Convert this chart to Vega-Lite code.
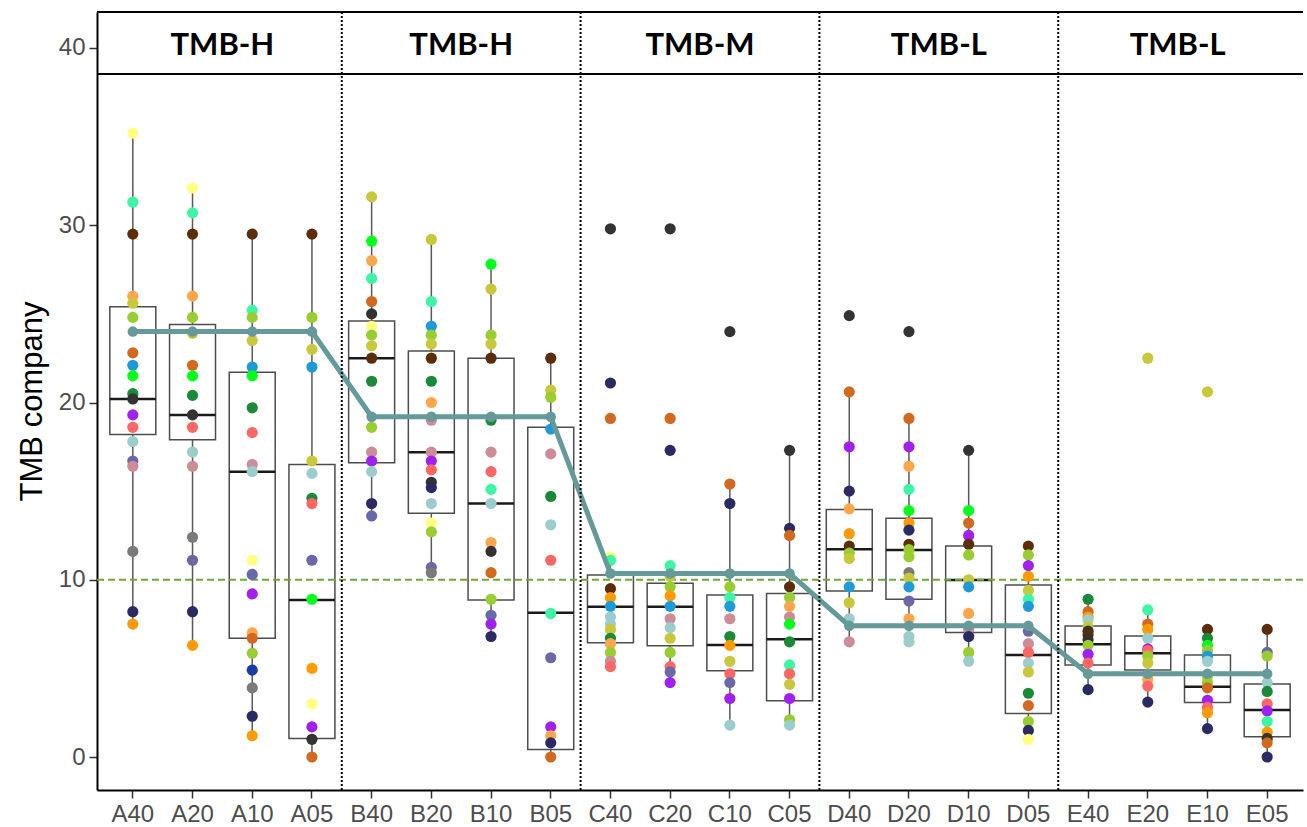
{
  "$schema": "https://vega.github.io/schema/vega-lite/v6.json",
  "autosize": "none",
  "padding": {"left": 97, "top": 12, "right": 4, "bottom": 37},
  "width": 1206,
  "height": 778,
  "background": "white",
  "config": {"view": {"stroke": null}},
  "datasets": {
    "pts": [
      {"c":"A40","s":"ly","v":35.2},{"c":"A40","s":"aq","v":31.3},{"c":"A40","s":"br","v":29.5},{"c":"A40","s":"lo","v":26.0},{"c":"A40","s":"ol","v":25.6},{"c":"A40","s":"yg","v":24.8},{"c":"A40","s":"do","v":22.8},{"c":"A40","s":"bl","v":22.1},{"c":"A40","s":"li","v":21.5},{"c":"A40","s":"dg","v":20.5},{"c":"A40","s":"bk","v":20.2},{"c":"A40","s":"pu","v":19.3},{"c":"A40","s":"sa","v":18.6},{"c":"A40","s":"lb","v":17.8},{"c":"A40","s":"sl","v":16.7},{"c":"A40","s":"ma","v":16.4},{"c":"A40","s":"gr","v":11.6},{"c":"A40","s":"nv","v":8.2},{"c":"A40","s":"or","v":7.5},
      {"c":"A20","s":"ly","v":32.1},{"c":"A20","s":"aq","v":30.7},{"c":"A20","s":"br","v":29.5},{"c":"A20","s":"lo","v":26.0},{"c":"A20","s":"yg","v":24.8},{"c":"A20","s":"ol","v":23.9},{"c":"A20","s":"do","v":22.1},{"c":"A20","s":"li","v":21.5},{"c":"A20","s":"dg","v":20.4},{"c":"A20","s":"bk","v":19.3},{"c":"A20","s":"sa","v":18.6},{"c":"A20","s":"lb","v":17.2},{"c":"A20","s":"ma","v":16.4},{"c":"A20","s":"gr","v":12.4},{"c":"A20","s":"sl","v":11.1},{"c":"A20","s":"nv","v":8.2},{"c":"A20","s":"or","v":6.3},
      {"c":"A10","s":"br","v":29.5},{"c":"A10","s":"aq","v":25.2},{"c":"A10","s":"yg","v":24.8},{"c":"A10","s":"ol","v":23.5},{"c":"A10","s":"bl","v":22.0},{"c":"A10","s":"li","v":21.5},{"c":"A10","s":"dg","v":19.7},{"c":"A10","s":"sa","v":18.3},{"c":"A10","s":"ma","v":16.5},{"c":"A10","s":"lb","v":16.1},{"c":"A10","s":"ly","v":11.1},{"c":"A10","s":"sl","v":10.3},{"c":"A10","s":"pu","v":9.2},{"c":"A10","s":"lo","v":7.0},{"c":"A10","s":"do","v":6.7},{"c":"A10","s":"yg","v":5.85},{"c":"A10","s":"rb","v":4.9},{"c":"A10","s":"gr","v":3.9},{"c":"A10","s":"nv","v":2.3},{"c":"A10","s":"or","v":1.2},
      {"c":"A05","s":"br","v":29.5},{"c":"A05","s":"yg","v":24.8},{"c":"A05","s":"ol","v":23.0},{"c":"A05","s":"bl","v":22.0},{"c":"A05","s":"ol","v":16.7},{"c":"A05","s":"lb","v":16.0},{"c":"A05","s":"dg","v":14.6},{"c":"A05","s":"sa","v":14.3},{"c":"A05","s":"sl","v":11.1},{"c":"A05","s":"li","v":8.9},{"c":"A05","s":"or","v":5.0},{"c":"A05","s":"ly","v":3.0},{"c":"A05","s":"pu","v":1.7},{"c":"A05","s":"bk","v":1.0},{"c":"A05","s":"do","v":0.0},
      {"c":"B40","s":"ol","v":31.6},{"c":"B40","s":"li","v":29.1},{"c":"B40","s":"lo","v":28.0},{"c":"B40","s":"aq","v":27.0},{"c":"B40","s":"do","v":25.7},{"c":"B40","s":"bk","v":25.0},{"c":"B40","s":"ly","v":24.3},{"c":"B40","s":"yg","v":23.8},{"c":"B40","s":"ol","v":23.2},{"c":"B40","s":"br","v":22.5},{"c":"B40","s":"dg","v":21.2},{"c":"B40","s":"yg","v":18.6},{"c":"B40","s":"ma","v":17.2},{"c":"B40","s":"pu","v":16.7},{"c":"B40","s":"lb","v":16.1},{"c":"B40","s":"nv","v":14.3},{"c":"B40","s":"sl","v":13.6},
      {"c":"B20","s":"ol","v":29.2},{"c":"B20","s":"aq","v":25.7},{"c":"B20","s":"bl","v":24.3},{"c":"B20","s":"yg","v":23.8},{"c":"B20","s":"ol","v":23.3},{"c":"B20","s":"br","v":22.5},{"c":"B20","s":"dg","v":21.2},{"c":"B20","s":"lo","v":20.0},{"c":"B20","s":"ma","v":19.0},{"c":"B20","s":"ma","v":17.2},{"c":"B20","s":"pu","v":16.7},{"c":"B20","s":"sa","v":16.2},{"c":"B20","s":"bk","v":15.5},{"c":"B20","s":"nv","v":15.2},{"c":"B20","s":"lb","v":14.3},{"c":"B20","s":"ly","v":13.2},{"c":"B20","s":"yg","v":12.7},{"c":"B20","s":"sl","v":10.7},{"c":"B20","s":"gr","v":10.4},
      {"c":"B10","s":"li","v":27.8},{"c":"B10","s":"ol","v":26.4},{"c":"B10","s":"yg","v":23.8},{"c":"B10","s":"ol","v":23.3},{"c":"B10","s":"br","v":22.5},{"c":"B10","s":"dg","v":19.0},{"c":"B10","s":"ma","v":17.2},{"c":"B10","s":"sa","v":16.1},{"c":"B10","s":"aq","v":15.1},{"c":"B10","s":"lb","v":14.3},{"c":"B10","s":"lo","v":12.1},{"c":"B10","s":"bk","v":11.6},{"c":"B10","s":"do","v":10.4},{"c":"B10","s":"yg","v":8.9},{"c":"B10","s":"sl","v":8.0},{"c":"B10","s":"pu","v":7.5},{"c":"B10","s":"nv","v":6.8},
      {"c":"B05","s":"br","v":22.5},{"c":"B05","s":"ol","v":20.7},{"c":"B05","s":"yg","v":20.3},{"c":"B05","s":"bl","v":18.5},{"c":"B05","s":"ma","v":17.1},{"c":"B05","s":"dg","v":14.7},{"c":"B05","s":"lb","v":13.1},{"c":"B05","s":"sa","v":11.1},{"c":"B05","s":"aq","v":8.1},{"c":"B05","s":"sl","v":5.6},{"c":"B05","s":"pu","v":1.7},{"c":"B05","s":"lo","v":1.2},{"c":"B05","s":"nv","v":0.8},{"c":"B05","s":"do","v":0.0},
      {"c":"C40","s":"bk","v":29.8},{"c":"C40","s":"nv","v":21.1},{"c":"C40","s":"do","v":19.1},{"c":"C40","s":"ly","v":11.3},{"c":"C40","s":"aq","v":11.1},{"c":"C40","s":"br","v":9.5},{"c":"C40","s":"or","v":9.0},{"c":"C40","s":"bl","v":8.5},{"c":"C40","s":"lb","v":7.9},{"c":"C40","s":"lb","v":7.5},{"c":"C40","s":"ol","v":7.2},{"c":"C40","s":"dg","v":6.7},{"c":"C40","s":"lo","v":6.4},{"c":"C40","s":"yg","v":5.9},{"c":"C40","s":"ma","v":5.4},{"c":"C40","s":"sa","v":5.1},
      {"c":"C20","s":"bk","v":29.8},{"c":"C20","s":"do","v":19.1},{"c":"C20","s":"nv","v":17.3},{"c":"C20","s":"aq","v":10.8},{"c":"C20","s":"ol","v":10.2},{"c":"C20","s":"yg","v":9.6},{"c":"C20","s":"or","v":9.1},{"c":"C20","s":"bl","v":8.5},{"c":"C20","s":"ma","v":7.8},{"c":"C20","s":"lb","v":7.3},{"c":"C20","s":"ol","v":6.7},{"c":"C20","s":"yg","v":5.9},{"c":"C20","s":"sa","v":5.1},{"c":"C20","s":"sl","v":4.8},{"c":"C20","s":"pu","v":4.2},
      {"c":"C10","s":"bk","v":24.0},{"c":"C10","s":"do","v":15.4},{"c":"C10","s":"nv","v":14.3},{"c":"C10","s":"yg","v":9.6},{"c":"C10","s":"aq","v":9.0},{"c":"C10","s":"bl","v":8.5},{"c":"C10","s":"ma","v":7.8},{"c":"C10","s":"dg","v":6.8},{"c":"C10","s":"or","v":6.3},{"c":"C10","s":"ol","v":5.4},{"c":"C10","s":"sa","v":4.7},{"c":"C10","s":"sl","v":4.2},{"c":"C10","s":"pu","v":3.3},{"c":"C10","s":"lb","v":1.8},
      {"c":"C05","s":"bk","v":17.3},{"c":"C05","s":"nv","v":12.9},{"c":"C05","s":"do","v":12.5},{"c":"C05","s":"br","v":9.6},{"c":"C05","s":"yg","v":9.0},{"c":"C05","s":"lo","v":8.5},{"c":"C05","s":"ma","v":7.9},{"c":"C05","s":"li","v":7.5},{"c":"C05","s":"dg","v":6.5},{"c":"C05","s":"aq","v":5.2},{"c":"C05","s":"sa","v":4.7},{"c":"C05","s":"ol","v":4.1},{"c":"C05","s":"pu","v":3.3},{"c":"C05","s":"yg","v":2.1},{"c":"C05","s":"lb","v":1.8},
      {"c":"D40","s":"bk","v":24.9},{"c":"D40","s":"do","v":20.6},{"c":"D40","s":"pu","v":17.5},{"c":"D40","s":"nv","v":15.0},{"c":"D40","s":"lo","v":14.0},{"c":"D40","s":"or","v":12.6},{"c":"D40","s":"br","v":11.9},{"c":"D40","s":"yg","v":11.5},{"c":"D40","s":"ol","v":11.2},{"c":"D40","s":"bl","v":9.6},{"c":"D40","s":"ol","v":8.7},{"c":"D40","s":"lb","v":7.8},{"c":"D40","s":"ma","v":6.5},
      {"c":"D20","s":"bk","v":24.0},{"c":"D20","s":"do","v":19.1},{"c":"D20","s":"pu","v":17.5},{"c":"D20","s":"lo","v":16.4},{"c":"D20","s":"aq","v":15.1},{"c":"D20","s":"li","v":13.9},{"c":"D20","s":"or","v":13.2},{"c":"D20","s":"nv","v":12.8},{"c":"D20","s":"br","v":12.0},{"c":"D20","s":"yg","v":11.7},{"c":"D20","s":"yg","v":11.3},{"c":"D20","s":"gr","v":10.4},{"c":"D20","s":"ol","v":10.1},{"c":"D20","s":"bl","v":9.6},{"c":"D20","s":"sl","v":8.8},{"c":"D20","s":"lo","v":7.8},{"c":"D20","s":"lb","v":6.8},{"c":"D20","s":"lb","v":6.5},
      {"c":"D10","s":"bk","v":17.3},{"c":"D10","s":"li","v":13.9},{"c":"D10","s":"do","v":13.2},{"c":"D10","s":"pu","v":12.5},{"c":"D10","s":"br","v":12.0},{"c":"D10","s":"yg","v":11.4},{"c":"D10","s":"ol","v":10.0},{"c":"D10","s":"bl","v":9.6},{"c":"D10","s":"lo","v":8.1},{"c":"D10","s":"ma","v":7.2},{"c":"D10","s":"nv","v":6.8},{"c":"D10","s":"yg","v":5.9},{"c":"D10","s":"lb","v":5.4},
      {"c":"D05","s":"br","v":11.9},{"c":"D05","s":"yg","v":11.4},{"c":"D05","s":"pu","v":10.8},{"c":"D05","s":"or","v":10.2},{"c":"D05","s":"ol","v":9.4},{"c":"D05","s":"aq","v":8.9},{"c":"D05","s":"bl","v":8.5},{"c":"D05","s":"sl","v":7.1},{"c":"D05","s":"ma","v":6.4},{"c":"D05","s":"sa","v":5.9},{"c":"D05","s":"lb","v":5.3},{"c":"D05","s":"ol","v":4.8},{"c":"D05","s":"dg","v":3.6},{"c":"D05","s":"do","v":2.9},{"c":"D05","s":"yg","v":2.0},{"c":"D05","s":"nv","v":1.5},{"c":"D05","s":"ly","v":1.0},
      {"c":"E40","s":"dg","v":8.9},{"c":"E40","s":"do","v":8.2},{"c":"E40","s":"or","v":7.9},{"c":"E40","s":"lb","v":7.75},{"c":"E40","s":"ol","v":7.35},{"c":"E40","s":"bk","v":7.1},{"c":"E40","s":"br","v":6.9},{"c":"E40","s":"bk","v":6.6},{"c":"E40","s":"yg","v":6.3},{"c":"E40","s":"pu","v":5.8},{"c":"E40","s":"sa","v":5.3},{"c":"E40","s":"nv","v":3.8},
      {"c":"E20","s":"ol","v":22.5},{"c":"E20","s":"aq","v":8.3},{"c":"E20","s":"do","v":7.5},{"c":"E20","s":"or","v":7.2},{"c":"E20","s":"lb","v":6.7},{"c":"E20","s":"pu","v":6.1},{"c":"E20","s":"sa","v":6.0},{"c":"E20","s":"yg","v":5.7},{"c":"E20","s":"ol","v":5.3},{"c":"E20","s":"lo","v":4.4},{"c":"E20","s":"sa","v":4.0},{"c":"E20","s":"nv","v":3.1},
      {"c":"E10","s":"ol","v":20.6},{"c":"E10","s":"br","v":7.2},{"c":"E10","s":"dg","v":6.7},{"c":"E10","s":"li","v":6.3},{"c":"E10","s":"yg","v":6.0},{"c":"E10","s":"bl","v":5.7},{"c":"E10","s":"lb","v":5.4},{"c":"E10","s":"ol","v":4.5},{"c":"E10","s":"yg","v":4.2},{"c":"E10","s":"do","v":3.9},{"c":"E10","s":"pu","v":3.2},{"c":"E10","s":"sa","v":2.8},{"c":"E10","s":"or","v":2.5},{"c":"E10","s":"nv","v":1.6},
      {"c":"E05","s":"br","v":7.2},{"c":"E05","s":"sl","v":5.9},{"c":"E05","s":"yg","v":5.7},{"c":"E05","s":"lb","v":4.2},{"c":"E05","s":"dg","v":3.7},{"c":"E05","s":"sa","v":3.0},{"c":"E05","s":"pu","v":2.6},{"c":"E05","s":"aq","v":2.0},{"c":"E05","s":"or","v":1.4},{"c":"E05","s":"bk","v":1.05},{"c":"E05","s":"do","v":0.8},{"c":"E05","s":"nv","v":0.0}
    ],
    "box": [
      {"c":"A40","lo":7.5,"q1":18.2,"med":20.2,"q3":25.4,"hi":35.2},
      {"c":"A20","lo":6.3,"q1":17.9,"med":19.3,"q3":24.4,"hi":32.1},
      {"c":"A10","lo":1.2,"q1":6.7,"med":16.1,"q3":21.7,"hi":29.5},
      {"c":"A05","lo":0.0,"q1":1.05,"med":8.86,"q3":16.5,"hi":29.5},
      {"c":"B40","lo":13.6,"q1":16.6,"med":22.5,"q3":24.6,"hi":31.6},
      {"c":"B20","lo":10.4,"q1":13.75,"med":17.2,"q3":22.9,"hi":29.2},
      {"c":"B10","lo":6.8,"q1":8.86,"med":14.3,"q3":22.5,"hi":27.8},
      {"c":"B05","lo":0.0,"q1":0.43,"med":8.14,"q3":18.6,"hi":22.5},
      {"c":"C40","lo":5.1,"q1":6.45,"med":8.48,"q3":10.27,"hi":11.3},
      {"c":"C20","lo":4.2,"q1":6.28,"med":8.48,"q3":9.8,"hi":10.8},
      {"c":"C10","lo":1.8,"q1":4.87,"med":6.32,"q3":9.14,"hi":15.4},
      {"c":"C05","lo":1.8,"q1":3.18,"med":6.64,"q3":9.23,"hi":17.3},
      {"c":"D40","lo":6.45,"q1":9.37,"med":11.72,"q3":13.96,"hi":20.6},
      {"c":"D20","lo":6.5,"q1":8.9,"med":11.68,"q3":13.47,"hi":19.1},
      {"c":"D10","lo":5.4,"q1":7.02,"med":9.99,"q3":11.9,"hi":17.3},
      {"c":"D05","lo":1.0,"q1":2.46,"med":5.75,"q3":9.7,"hi":11.9},
      {"c":"E40","lo":3.8,"q1":5.19,"med":6.36,"q3":7.39,"hi":8.9},
      {"c":"E20","lo":3.1,"q1":4.91,"med":5.85,"q3":6.83,"hi":8.3},
      {"c":"E10","lo":1.6,"q1":3.07,"med":3.97,"q3":5.75,"hi":7.2},
      {"c":"E05","lo":0.0,"q1":1.15,"med":2.65,"q3":4.12,"hi":7.2}
    ],
    "ref": [
      {"c":"A40","v":24.0},{"c":"A20","v":24.0},{"c":"A10","v":24.0},{"c":"A05","v":24.0},
      {"c":"B40","v":19.2},{"c":"B20","v":19.2},{"c":"B10","v":19.2},{"c":"B05","v":19.2},
      {"c":"C40","v":10.35},{"c":"C20","v":10.35},{"c":"C10","v":10.35},{"c":"C05","v":10.35},
      {"c":"D40","v":7.4},{"c":"D20","v":7.4},{"c":"D10","v":7.4},{"c":"D05","v":7.4},
      {"c":"E40","v":4.7},{"c":"E20","v":4.7},{"c":"E10","v":4.7},{"c":"E05","v":4.7}
    ],
    "groups": [
      {"label":"TMB-H","mid":"A20","last":"A05"},
      {"label":"TMB-H","mid":"B20","last":"B05"},
      {"label":"TMB-M","mid":"C20","last":"C05"},
      {"label":"TMB-L","mid":"D20","last":"D05"},
      {"label":"TMB-L","mid":"E20","last":"E05"}
    ]
  },
  "encoding": {
    "x": {
      "field": "c", "type": "nominal",
      "scale": {"domain": ["A40","A20","A10","A05","B40","B20","B10","B05","C40","C20","C10","C05","D40","D20","D10","D05","E40","E20","E10","E05"], "paddingInner": 0, "paddingOuter": 0.1},
      "axis": {"title": null, "labelAngle": 0, "labelFont": "Liberation Sans", "labelFontSize": 24, "labelColor": "#4d4d4d", "labelPadding": 4, "tickSize": 8, "tickWidth": 1.5, "tickColor": "#333333", "domainColor": "#000000", "domainWidth": 2, "grid": false}
    }
  },
  "layer": [
    {
      "data": {"name": "box"},
      "mark": {"type": "rule", "color": "#595959", "strokeWidth": 1.5},
      "encoding": {
        "y": {"field": "lo", "type": "quantitative", "scale": {"domain": [-1.86, 42.03], "nice": false, "zero": false},
          "axis": {"title": "TMB company", "titleFont": "Liberation Sans", "titleFontSize": 31, "titleFontWeight": "normal", "titleColor": "#000000", "titlePadding": 10, "values": [0,10,20,30,40], "labelFont": "Liberation Sans", "labelFontSize": 24, "labelColor": "#4d4d4d", "labelPadding": 4, "tickSize": 8, "tickWidth": 1.5, "tickColor": "#333333", "domainColor": "#000000", "domainWidth": 2, "grid": false}},
        "y2": {"field": "hi"}
      }
    },
    {
      "data": {"name": "box"},
      "mark": {"type": "bar", "width": {"band": 0.77}, "fill": "white", "stroke": "#4d4d4d", "strokeWidth": 1.5},
      "encoding": {
        "y": {"field": "q1", "type": "quantitative"},
        "y2": {"field": "q3"}
      }
    },
    {
      "data": {"name": "box"},
      "mark": {"type": "bar", "width": {"band": 0.77}, "fill": null, "stroke": "#1a1a1a", "strokeWidth": 2.5},
      "encoding": {
        "y": {"field": "med", "type": "quantitative"},
        "y2": {"field": "med"}
      }
    },
    {
      "data": {"values": [{}]},
      "mark": {"type": "rule", "color": "#70a838", "strokeWidth": 1.8, "strokeDash": [7, 4]},
      "encoding": {"x": null, "y": {"datum": 10, "type": "quantitative"}}
    },
    {
      "data": {"name": "pts"},
      "mark": {"type": "circle", "size": 125, "opacity": 1},
      "encoding": {
        "y": {"field": "v", "type": "quantitative"},
        "color": {"field": "s", "type": "nominal", "legend": null,
          "scale": {"domain": ["ly","aq","br","lo","ol","yg","do","bl","li","dg","bk","pu","sa","lb","sl","ma","gr","nv","or","rb"],
                    "range": ["#ffff80","#3df5a5","#5a2d0c","#ffa64d","#c8c83c","#9acd32","#d2691e","#1e9bd7","#00ff1a","#1a8a3a","#333333","#a020f0","#ff6666","#9ccccc","#6b68a8","#cc8c99","#7a7a7a","#2b2a62","#ff9a00","#1a3ca8"]}}
      }
    },
    {
      "data": {"name": "ref"},
      "mark": {"type": "line", "color": "#669999", "strokeWidth": 5, "point": {"filled": true, "size": 110, "color": "#669999"}},
      "encoding": {"y": {"field": "v", "type": "quantitative"}}
    },
    {
      "data": {"values": [{}]},
      "mark": {"type": "rule", "color": "#000000", "strokeWidth": 2},
      "encoding": {"x": null, "y": {"datum": 38.53, "type": "quantitative"}}
    },
    {
      "data": {"values": [{}]},
      "mark": {"type": "rule", "color": "#000000", "strokeWidth": 2},
      "encoding": {"x": null, "y": {"datum": 42.03, "type": "quantitative"}}
    },
    {
      "data": {"name": "groups"},
      "transform": [{"filter": "datum.last !== 'E05'"}],
      "mark": {"type": "rule", "color": "#000000", "strokeWidth": 2, "strokeDash": [2, 2]},
      "encoding": {"x": {"field": "last", "type": "nominal", "bandPosition": 1}}
    },
    {
      "data": {"name": "groups"},
      "mark": {"type": "text", "font": "Lato", "fontWeight": "bold", "fontSize": 31, "color": "#000000", "baseline": "middle", "align": "center"},
      "encoding": {
        "x": {"field": "mid", "type": "nominal", "bandPosition": 1},
        "y": {"datum": 40.1, "type": "quantitative"},
        "text": {"field": "label"}
      }
    }
  ]
}
